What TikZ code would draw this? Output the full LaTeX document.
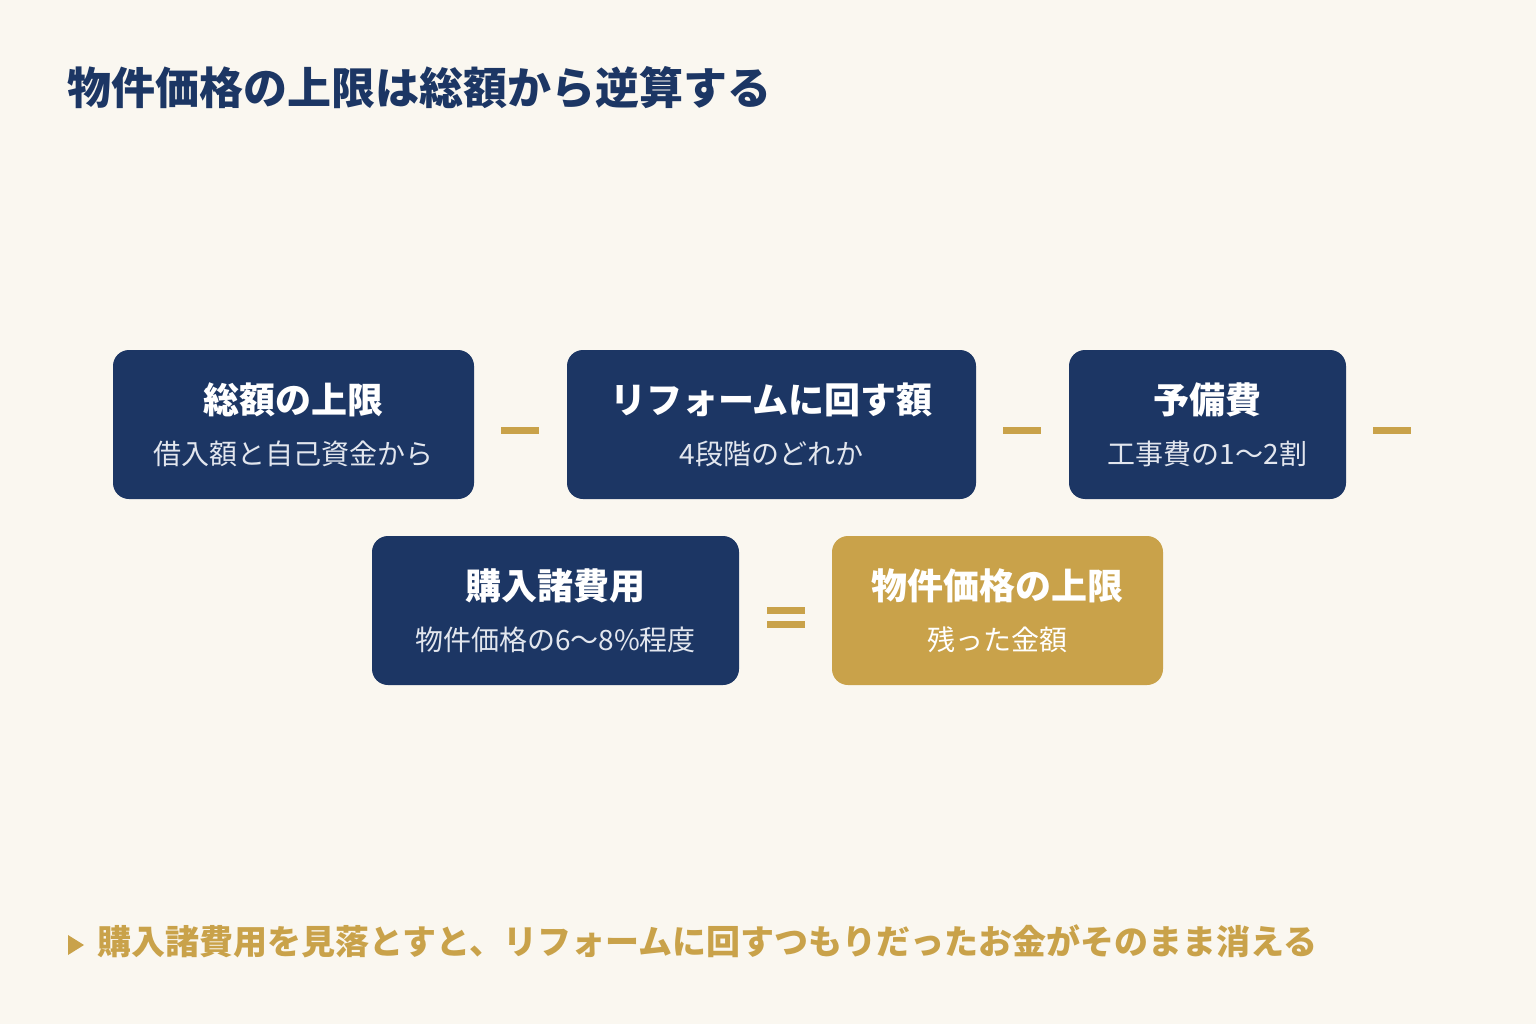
\documentclass[tikz,border=0pt]{standalone}
\usepackage{fontspec}
\setmainfont{Noto Sans CJK JP}
\definecolor{bg}{HTML}{FAF7F0}
\definecolor{navy}{HTML}{1C3664}
\definecolor{gold}{HTML}{C9A24A}
\definecolor{sub}{HTML}{E2E6EE}
\begin{document}
\begin{tikzpicture}[x=1pt,y=-1pt,
  box/.style={rounded corners=16pt,inner sep=0pt},
  bt/.style={text=white,font=\fontsize{36}{40}\selectfont\bfseries,anchor=center},
  bs/.style={text=sub,font=\fontsize{28}{32}\selectfont,anchor=center},
  op/.style={fill=gold,inner sep=0pt,minimum width=38pt,minimum height=7pt}]
\useasboundingbox (0,0) rectangle (1536,1024);
\fill[bg] (0,0) rectangle (1536,1024);
\node[anchor=west,text=navy,font=\fontsize{44}{48}\selectfont\bfseries] (title) at (64,88) {物件価格の上限は総額から逆算する};
% row 1
\fill[navy,box] (113,350) rectangle (474,499);
\node[bt] (t1) at (293.5,400) {総額の上限};
\node[bs] (s1) at (293.5,454) {借入額と自己資金から};
\node[op] (m1) at (520,430) {};
\fill[navy,box] (567,350) rectangle (976,499);
\node[bt] (t2) at (771.5,400) {リフォームに回す額};
\node[bs] (s2) at (771.5,454) {4段階のどれか};
\node[op] (m2) at (1022,430) {};
\fill[navy,box] (1069,350) rectangle (1346,499);
\node[bt] (t3) at (1207.5,400) {予備費};
\node[bs] (s3) at (1207.5,454) {工事費の1〜2割};
\node[op] (m3) at (1392,430) {};
% row 2
\fill[navy,box] (372,536) rectangle (739,685);
\node[bt] (t4) at (555.5,586) {購入諸費用};
\node[bs] (s4) at (555.5,640) {物件価格の6〜8\%程度};
\node[op] (e1) at (786,610) {};
\node[op] (e2) at (786,624) {};
\fill[gold,box] (832,536) rectangle (1163,685);
\node[bt] (t5) at (997.5,586) {物件価格の上限};
\node[bs,text=white] (s5) at (997.5,640) {残った金額};
% footer
\fill[gold] (68,935) -- (68,955) -- (84,945) -- cycle;
\node[anchor=west,text=gold,font=\fontsize{34}{38}\selectfont\bfseries] (foot) at (94,941) {購入諸費用を見落とすと、リフォームに回すつもりだったお金がそのまま消える};
\end{tikzpicture}
\end{document}
